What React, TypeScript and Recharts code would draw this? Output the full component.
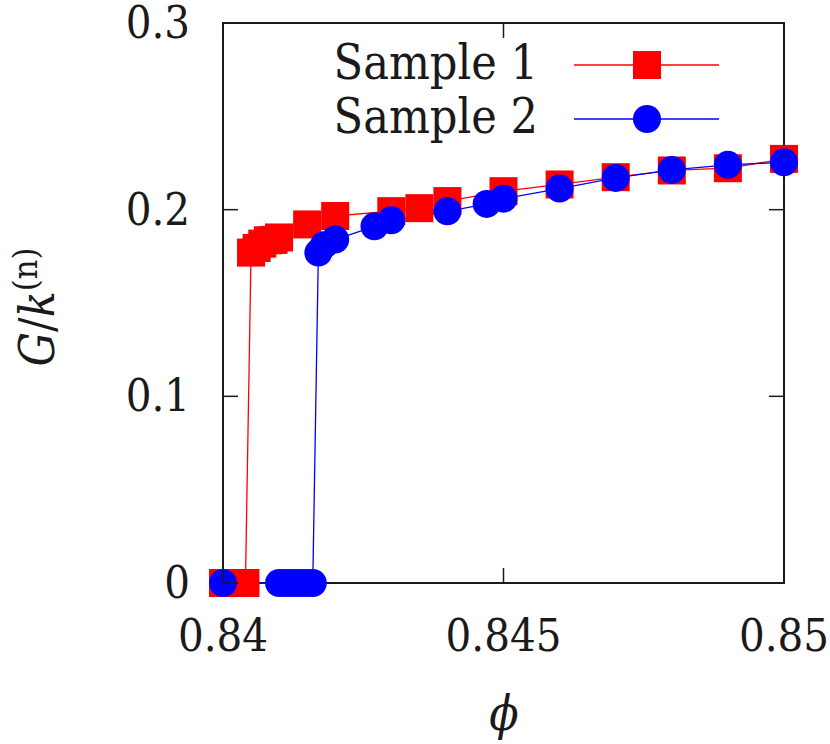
import React from 'react';
import {
  LineChart,
  Line,
  XAxis,
  YAxis,
  Legend,
  ReferenceArea
} from 'recharts';

// phi values and G/k^(n)
const sample1Phi = [
  0.84, 0.8404, 0.8405, 0.8406, 0.8407, 0.8408, 0.8409, 0.841, 0.8415, 0.842,
  0.843, 0.8435, 0.844, 0.845, 0.846, 0.847, 0.848, 0.849, 0.85
];
const sample1G = [
  0, 0, 0.177, 0.1795, 0.1818, 0.1836, 0.1838, 0.1851, 0.1921, 0.1966,
  0.1992, 0.2008, 0.2046, 0.2099, 0.2135, 0.2174, 0.221, 0.2222, 0.2272
];

const sample2Phi = [
  0.84, 0.841, 0.8411, 0.8412, 0.8413, 0.8414, 0.8415, 0.8416, 0.8417, 0.8418,
  0.842, 0.8427, 0.843, 0.844, 0.8447, 0.845, 0.846, 0.847, 0.848, 0.849, 0.85
];
const sample2G = [
  0, 0, 0, 0, 0, 0, 0, 0, 0.177, 0.181,
  0.184, 0.1911, 0.1943, 0.1991, 0.2031, 0.2059, 0.2113, 0.217, 0.2213, 0.224, 0.2254
];

const xTicks = [0.84, 0.845, 0.85];
const yTicks = [0, 0.1, 0.2, 0.3];

const seriesNames = ['Sample 1', 'Sample 2'];

const sample1 = sample1Phi.map((x, i) => ({ x, y: sample1G[i] }));
const sample2 = sample2Phi.map((x, i) => ({ x, y: sample2G[i] }));

const W = 830;
const H = 744;
const margin = { top: 23, right: 46, bottom: 0, left: 0 };
const yAxisW = 223;
const xAxisH = 161;
const plotW = W - yAxisW - margin.right;
const plotH = H - margin.top - xAxisH;

const FONT = '"DejaVu Serif Condensed", "DejaVu Serif", serif';
const INK = '#1a1a1a';
const RED = '#ff0000';
const BLUE = '#0000ff';
const TICK = 15;

const XTick = ({ x, y, payload }: any) => (
  <g>
    <line x1={x} y1={y} x2={x} y2={y - TICK} stroke={INK} strokeWidth={1.5} />
    <line x1={x} y1={y - plotH} x2={x} y2={y - plotH + TICK} stroke={INK} strokeWidth={1.5} />
    <text x={x} y={y + 68} textAnchor="middle" fontFamily={FONT} fontSize={45} fill={INK}>
      {String(payload.value)}
    </text>
  </g>
);

const YTick = ({ x, y, payload }: any) => (
  <g>
    <line x1={x} y1={y} x2={x + TICK} y2={y} stroke={INK} strokeWidth={1.5} />
    <line x1={x + plotW} y1={y} x2={x + plotW - TICK} y2={y} stroke={INK} strokeWidth={1.5} />
    <text x={x - 33} y={y + 15} textAnchor="end" fontFamily={FONT} fontSize={45} fill={INK}>
      {String(payload.value)}
    </text>
  </g>
);

const SquareDot = ({ cx, cy, index }: any) => (
  <rect key={`s-${index}`} x={cx - 14} y={cy - 14} width={28} height={28} fill={RED} />
);

const CircleDot = ({ cx, cy, index }: any) => (
  <circle key={`c-${index}`} cx={cx} cy={cy} r={14} fill={BLUE} />
);

const YLabel = () => (
  <text
    transform="translate(54,307) rotate(-90)"
    textAnchor="middle"
    fontFamily={FONT}
    fontSize={48}
    fill={INK}
  >
    <tspan fontStyle="italic">G</tspan>
    <tspan>/</tspan>
    <tspan fontStyle="italic">k</tspan>
    <tspan fontSize={34} dy={-17}>(n)</tspan>
  </text>
);

const XLabel = () => (
  <text x={504} y={730} textAnchor="middle" fontFamily={FONT} fontSize={48} fontStyle="italic" fill={INK}>
    ϕ
  </text>
);

const LegendBox = ({ payload }: any) => (
  <svg width={W} height={150} style={{ overflow: 'visible' }}>
    {(payload || []).map((entry: any, i: number) => {
      const rowY = 65 + i * 54;
      return (
        <g key={entry.value}>
          <text x={538} y={rowY + 14} textAnchor="end" fontFamily={FONT} fontSize={48} fill={INK}>
            {entry.value}
          </text>
          <line x1={574} y1={rowY} x2={719} y2={rowY} stroke={entry.color} strokeWidth={1.3} />
          {i === 0 ? (
            <rect x={633} y={rowY - 14} width={28} height={28} fill={RED} />
          ) : (
            <circle cx={647} cy={rowY} r={14} fill={BLUE} />
          )}
        </g>
      );
    })}
  </svg>
);

export default function App() {
  return (
    <div style={{ position: 'absolute', left: 0, top: 0, width: W, height: H, background: '#fff' }}>
      <LineChart width={W} height={H} margin={margin}>
        <XAxis
          xAxisId="b"
          type="number"
          dataKey="x"
          domain={[0.84, 0.85]}
          ticks={xTicks}
          height={xAxisH}
          tickSize={0}
          tickMargin={0}
          tickLine={false}
          axisLine={false}
          tick={XTick}
          interval={0}
          label={{ content: XLabel }}
        />
        <YAxis
          yAxisId="l"
          type="number"
          dataKey="y"
          domain={[0, 0.3]}
          ticks={yTicks}
          width={yAxisW}
          tickSize={0}
          tickMargin={0}
          tickLine={false}
          axisLine={false}
          tick={YTick}
          interval={0}
          label={{ content: YLabel }}
        />
        <Legend
          layout="vertical"
          align="center"
          verticalAlign="middle"
          content={LegendBox}
          wrapperStyle={{ position: 'absolute', left: 0, top: 0, width: W, height: 150 }}
        />
        <Line
          xAxisId="b"
          yAxisId="l"
          data={sample1}
          dataKey="y"
          name={seriesNames[0]}
          stroke={RED}
          strokeWidth={1.3}
          dot={SquareDot}
          activeDot={false}
          isAnimationActive={false}
        />
        <Line
          xAxisId="b"
          yAxisId="l"
          data={sample2}
          dataKey="y"
          name={seriesNames[1]}
          stroke={BLUE}
          strokeWidth={1.3}
          dot={CircleDot}
          activeDot={false}
          isAnimationActive={false}
        />
        <ReferenceArea
          xAxisId="b"
          yAxisId="l"
          x1={0.84}
          x2={0.85}
          y1={0}
          y2={0.3}
          fill="none"
          stroke={INK}
          strokeWidth={2}
          ifOverflow="visible"
        />
      </LineChart>
    </div>
  );
}
